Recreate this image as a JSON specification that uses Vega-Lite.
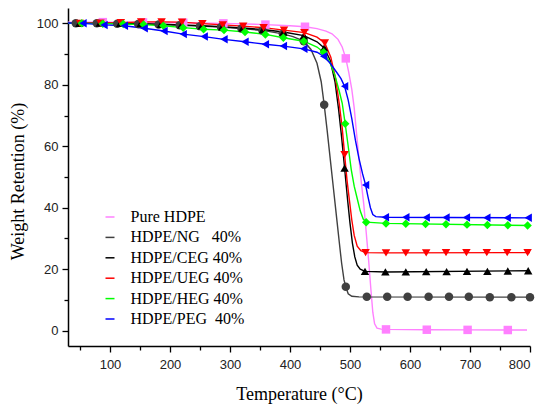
{
  "$schema": "https://vega.github.io/schema/vega-lite/v6.json",
  "autosize": "none",
  "width": 462,
  "height": 338,
  "padding": {"left": 68, "top": 8, "right": 11, "bottom": 58},
  "background": "white",
  "config": {
    "view": {"stroke": null},
    "axis": {
      "grid": false,
      "domainColor": "black",
      "domainWidth": 1.5,
      "tickColor": "black",
      "tickWidth": 1.3,
      "labelFont": "Liberation Sans",
      "labelFontSize": 13,
      "labelColor": "#222222",
      "titleFont": "Liberation Serif",
      "titleFontSize": 18,
      "titleFontWeight": "normal",
      "titleColor": "black"
    }
  },
  "datasets": {
    "curves": [
      {"s": "Pure HDPE", "t": 30, "w": 100.4}, {"s": "Pure HDPE", "t": 88, "w": 100.4}, {"s": "Pure HDPE", "t": 155, "w": 100.3}, {"s": "Pure HDPE", "t": 222, "w": 100.2}, {"s": "Pure HDPE", "t": 289, "w": 100.0}, {"s": "Pure HDPE", "t": 359, "w": 99.6}, {"s": "Pure HDPE", "t": 400, "w": 99.2}, {"s": "Pure HDPE", "t": 425, "w": 98.9}, {"s": "Pure HDPE", "t": 445, "w": 98.3}, {"s": "Pure HDPE", "t": 460, "w": 97.5}, {"s": "Pure HDPE", "t": 470, "w": 96.6}, {"s": "Pure HDPE", "t": 480, "w": 94.8}, {"s": "Pure HDPE", "t": 487, "w": 92.3}, {"s": "Pure HDPE", "t": 493, "w": 88.6}, {"s": "Pure HDPE", "t": 498, "w": 84}, {"s": "Pure HDPE", "t": 503, "w": 78.5}, {"s": "Pure HDPE", "t": 507, "w": 72.5}, {"s": "Pure HDPE", "t": 511, "w": 64}, {"s": "Pure HDPE", "t": 515, "w": 56}, {"s": "Pure HDPE", "t": 519, "w": 48}, {"s": "Pure HDPE", "t": 523, "w": 41}, {"s": "Pure HDPE", "t": 527, "w": 32}, {"s": "Pure HDPE", "t": 531, "w": 23}, {"s": "Pure HDPE", "t": 535, "w": 13}, {"s": "Pure HDPE", "t": 538, "w": 6}, {"s": "Pure HDPE", "t": 541, "w": 2.2}, {"s": "Pure HDPE", "t": 545, "w": 0.8}, {"s": "Pure HDPE", "t": 552, "w": 0.5}, {"s": "Pure HDPE", "t": 560, "w": 0.4}, {"s": "Pure HDPE", "t": 628, "w": 0.3}, {"s": "Pure HDPE", "t": 696, "w": 0.25}, {"s": "Pure HDPE", "t": 763, "w": 0.2}, {"s": "Pure HDPE", "t": 795, "w": 0.2},

      {"s": "HDPE/NG 40%", "t": 30, "w": 100.1}, {"s": "HDPE/NG 40%", "t": 43, "w": 100}, {"s": "HDPE/NG 40%", "t": 78, "w": 100}, {"s": "HDPE/NG 40%", "t": 112, "w": 99.9}, {"s": "HDPE/NG 40%", "t": 147, "w": 99.8}, {"s": "HDPE/NG 40%", "t": 181, "w": 99.6}, {"s": "HDPE/NG 40%", "t": 216, "w": 99.4}, {"s": "HDPE/NG 40%", "t": 250, "w": 99.1}, {"s": "HDPE/NG 40%", "t": 285, "w": 98.8}, {"s": "HDPE/NG 40%", "t": 319, "w": 98.3}, {"s": "HDPE/NG 40%", "t": 354, "w": 97.7}, {"s": "HDPE/NG 40%", "t": 388, "w": 96.6}, {"s": "HDPE/NG 40%", "t": 405, "w": 95.7}, {"s": "HDPE/NG 40%", "t": 423, "w": 94.2}, {"s": "HDPE/NG 40%", "t": 435, "w": 91.5}, {"s": "HDPE/NG 40%", "t": 445, "w": 87}, {"s": "HDPE/NG 40%", "t": 452, "w": 81}, {"s": "HDPE/NG 40%", "t": 457, "w": 73.5}, {"s": "HDPE/NG 40%", "t": 462, "w": 65}, {"s": "HDPE/NG 40%", "t": 467, "w": 56}, {"s": "HDPE/NG 40%", "t": 472, "w": 47}, {"s": "HDPE/NG 40%", "t": 477, "w": 38}, {"s": "HDPE/NG 40%", "t": 482, "w": 29}, {"s": "HDPE/NG 40%", "t": 486, "w": 22}, {"s": "HDPE/NG 40%", "t": 490, "w": 16.5}, {"s": "HDPE/NG 40%", "t": 493, "w": 14.3}, {"s": "HDPE/NG 40%", "t": 497, "w": 12}, {"s": "HDPE/NG 40%", "t": 503, "w": 11.2}, {"s": "HDPE/NG 40%", "t": 515, "w": 11}, {"s": "HDPE/NG 40%", "t": 800, "w": 10.9},

      {"s": "HDPE/CEG 40%", "t": 30, "w": 100}, {"s": "HDPE/CEG 40%", "t": 49, "w": 100}, {"s": "HDPE/CEG 40%", "t": 83, "w": 100.1}, {"s": "HDPE/CEG 40%", "t": 117, "w": 100}, {"s": "HDPE/CEG 40%", "t": 151, "w": 99.9}, {"s": "HDPE/CEG 40%", "t": 185, "w": 99.7}, {"s": "HDPE/CEG 40%", "t": 219, "w": 99.5}, {"s": "HDPE/CEG 40%", "t": 253, "w": 99.2}, {"s": "HDPE/CEG 40%", "t": 287, "w": 98.9}, {"s": "HDPE/CEG 40%", "t": 321, "w": 98.5}, {"s": "HDPE/CEG 40%", "t": 355, "w": 98}, {"s": "HDPE/CEG 40%", "t": 389, "w": 97.2}, {"s": "HDPE/CEG 40%", "t": 423, "w": 96}, {"s": "HDPE/CEG 40%", "t": 445, "w": 94}, {"s": "HDPE/CEG 40%", "t": 457, "w": 92}, {"s": "HDPE/CEG 40%", "t": 467, "w": 88}, {"s": "HDPE/CEG 40%", "t": 475, "w": 81}, {"s": "HDPE/CEG 40%", "t": 481, "w": 72}, {"s": "HDPE/CEG 40%", "t": 486, "w": 63}, {"s": "HDPE/CEG 40%", "t": 491, "w": 52.9}, {"s": "HDPE/CEG 40%", "t": 496, "w": 42.5}, {"s": "HDPE/CEG 40%", "t": 500, "w": 35}, {"s": "HDPE/CEG 40%", "t": 504, "w": 28.5}, {"s": "HDPE/CEG 40%", "t": 508, "w": 24}, {"s": "HDPE/CEG 40%", "t": 512, "w": 21.3}, {"s": "HDPE/CEG 40%", "t": 517, "w": 20}, {"s": "HDPE/CEG 40%", "t": 525, "w": 19.3}, {"s": "HDPE/CEG 40%", "t": 560, "w": 19.1}, {"s": "HDPE/CEG 40%", "t": 800, "w": 19.5},

      {"s": "HDPE/UEG 40%", "t": 30, "w": 100}, {"s": "HDPE/UEG 40%", "t": 50, "w": 100}, {"s": "HDPE/UEG 40%", "t": 84, "w": 100.1}, {"s": "HDPE/UEG 40%", "t": 118, "w": 100.2}, {"s": "HDPE/UEG 40%", "t": 152, "w": 100.5}, {"s": "HDPE/UEG 40%", "t": 186, "w": 100.5}, {"s": "HDPE/UEG 40%", "t": 220, "w": 100.4}, {"s": "HDPE/UEG 40%", "t": 254, "w": 99.9}, {"s": "HDPE/UEG 40%", "t": 288, "w": 99.5}, {"s": "HDPE/UEG 40%", "t": 322, "w": 99.1}, {"s": "HDPE/UEG 40%", "t": 356, "w": 98.6}, {"s": "HDPE/UEG 40%", "t": 390, "w": 97.8}, {"s": "HDPE/UEG 40%", "t": 424, "w": 97}, {"s": "HDPE/UEG 40%", "t": 445, "w": 95.5}, {"s": "HDPE/UEG 40%", "t": 458, "w": 93.6}, {"s": "HDPE/UEG 40%", "t": 468, "w": 89}, {"s": "HDPE/UEG 40%", "t": 476, "w": 82}, {"s": "HDPE/UEG 40%", "t": 482, "w": 74}, {"s": "HDPE/UEG 40%", "t": 487, "w": 66}, {"s": "HDPE/UEG 40%", "t": 491, "w": 57.3}, {"s": "HDPE/UEG 40%", "t": 495, "w": 49}, {"s": "HDPE/UEG 40%", "t": 499, "w": 42.5}, {"s": "HDPE/UEG 40%", "t": 503, "w": 36}, {"s": "HDPE/UEG 40%", "t": 507, "w": 31}, {"s": "HDPE/UEG 40%", "t": 512, "w": 27.5}, {"s": "HDPE/UEG 40%", "t": 518, "w": 26}, {"s": "HDPE/UEG 40%", "t": 526, "w": 25.4}, {"s": "HDPE/UEG 40%", "t": 560, "w": 25.3}, {"s": "HDPE/UEG 40%", "t": 800, "w": 25.4},

      {"s": "HDPE/HEG 40%", "t": 30, "w": 100}, {"s": "HDPE/HEG 40%", "t": 53, "w": 100}, {"s": "HDPE/HEG 40%", "t": 88, "w": 99.9}, {"s": "HDPE/HEG 40%", "t": 122, "w": 99.8}, {"s": "HDPE/HEG 40%", "t": 156, "w": 99.6}, {"s": "HDPE/HEG 40%", "t": 189, "w": 99.2}, {"s": "HDPE/HEG 40%", "t": 222, "w": 98.6}, {"s": "HDPE/HEG 40%", "t": 256, "w": 98.1}, {"s": "HDPE/HEG 40%", "t": 290, "w": 97.8}, {"s": "HDPE/HEG 40%", "t": 325, "w": 97.2}, {"s": "HDPE/HEG 40%", "t": 359, "w": 96.4}, {"s": "HDPE/HEG 40%", "t": 389, "w": 95.3}, {"s": "HDPE/HEG 40%", "t": 423, "w": 94.2}, {"s": "HDPE/HEG 40%", "t": 445, "w": 92.3}, {"s": "HDPE/HEG 40%", "t": 456, "w": 90.6}, {"s": "HDPE/HEG 40%", "t": 466, "w": 87.5}, {"s": "HDPE/HEG 40%", "t": 475, "w": 83}, {"s": "HDPE/HEG 40%", "t": 482, "w": 78}, {"s": "HDPE/HEG 40%", "t": 487, "w": 74}, {"s": "HDPE/HEG 40%", "t": 492, "w": 67.3}, {"s": "HDPE/HEG 40%", "t": 497, "w": 60}, {"s": "HDPE/HEG 40%", "t": 502, "w": 52.5}, {"s": "HDPE/HEG 40%", "t": 507, "w": 47}, {"s": "HDPE/HEG 40%", "t": 512, "w": 43}, {"s": "HDPE/HEG 40%", "t": 517, "w": 39}, {"s": "HDPE/HEG 40%", "t": 522, "w": 36.3}, {"s": "HDPE/HEG 40%", "t": 527, "w": 35.3}, {"s": "HDPE/HEG 40%", "t": 560, "w": 34.9}, {"s": "HDPE/HEG 40%", "t": 800, "w": 34.2},

      {"s": "HDPE/PEG 40%", "t": 30, "w": 100.1}, {"s": "HDPE/PEG 40%", "t": 55, "w": 100}, {"s": "HDPE/PEG 40%", "t": 90, "w": 99.5}, {"s": "HDPE/PEG 40%", "t": 124, "w": 99.2}, {"s": "HDPE/PEG 40%", "t": 157, "w": 98.4}, {"s": "HDPE/PEG 40%", "t": 190, "w": 97.5}, {"s": "HDPE/PEG 40%", "t": 222, "w": 96.5}, {"s": "HDPE/PEG 40%", "t": 257, "w": 95.7}, {"s": "HDPE/PEG 40%", "t": 290, "w": 94.8}, {"s": "HDPE/PEG 40%", "t": 325, "w": 94.0}, {"s": "HDPE/PEG 40%", "t": 359, "w": 93.2}, {"s": "HDPE/PEG 40%", "t": 389, "w": 92.6}, {"s": "HDPE/PEG 40%", "t": 423, "w": 91.7}, {"s": "HDPE/PEG 40%", "t": 445, "w": 90.6}, {"s": "HDPE/PEG 40%", "t": 456, "w": 89.3}, {"s": "HDPE/PEG 40%", "t": 467, "w": 87}, {"s": "HDPE/PEG 40%", "t": 478, "w": 84}, {"s": "HDPE/PEG 40%", "t": 485, "w": 82}, {"s": "HDPE/PEG 40%", "t": 491, "w": 79.5}, {"s": "HDPE/PEG 40%", "t": 497, "w": 75}, {"s": "HDPE/PEG 40%", "t": 503, "w": 69}, {"s": "HDPE/PEG 40%", "t": 509, "w": 62}, {"s": "HDPE/PEG 40%", "t": 515, "w": 56}, {"s": "HDPE/PEG 40%", "t": 521, "w": 51}, {"s": "HDPE/PEG 40%", "t": 526, "w": 47.4}, {"s": "HDPE/PEG 40%", "t": 530, "w": 43.5}, {"s": "HDPE/PEG 40%", "t": 534, "w": 40}, {"s": "HDPE/PEG 40%", "t": 538, "w": 37.8}, {"s": "HDPE/PEG 40%", "t": 543, "w": 37.1}, {"s": "HDPE/PEG 40%", "t": 559, "w": 36.9}, {"s": "HDPE/PEG 40%", "t": 800, "w": 36.7}
    ],
    "markers": [
      {"s": "Pure HDPE", "t": 88, "w": 100.4}, {"s": "Pure HDPE", "t": 155, "w": 100.3}, {"s": "Pure HDPE", "t": 222, "w": 100.2}, {"s": "Pure HDPE", "t": 289, "w": 100.0}, {"s": "Pure HDPE", "t": 359, "w": 99.6}, {"s": "Pure HDPE", "t": 425, "w": 98.9}, {"s": "Pure HDPE", "t": 493, "w": 88.6}, {"s": "Pure HDPE", "t": 560, "w": 0.4}, {"s": "Pure HDPE", "t": 628, "w": 0.3}, {"s": "Pure HDPE", "t": 696, "w": 0.25}, {"s": "Pure HDPE", "t": 763, "w": 0.2},

      {"s": "HDPE/NG 40%", "t": 43, "w": 100}, {"s": "HDPE/NG 40%", "t": 78, "w": 100}, {"s": "HDPE/NG 40%", "t": 112, "w": 99.9}, {"s": "HDPE/NG 40%", "t": 147, "w": 99.8}, {"s": "HDPE/NG 40%", "t": 181, "w": 99.6}, {"s": "HDPE/NG 40%", "t": 216, "w": 99.4}, {"s": "HDPE/NG 40%", "t": 250, "w": 99.1}, {"s": "HDPE/NG 40%", "t": 285, "w": 98.8}, {"s": "HDPE/NG 40%", "t": 319, "w": 98.3}, {"s": "HDPE/NG 40%", "t": 354, "w": 97.7}, {"s": "HDPE/NG 40%", "t": 388, "w": 96.6}, {"s": "HDPE/NG 40%", "t": 423, "w": 94.2}, {"s": "HDPE/NG 40%", "t": 457, "w": 73.5}, {"s": "HDPE/NG 40%", "t": 493, "w": 14.3}, {"s": "HDPE/NG 40%", "t": 528, "w": 11}, {"s": "HDPE/NG 40%", "t": 562, "w": 11}, {"s": "HDPE/NG 40%", "t": 596, "w": 11}, {"s": "HDPE/NG 40%", "t": 631, "w": 11}, {"s": "HDPE/NG 40%", "t": 665, "w": 11}, {"s": "HDPE/NG 40%", "t": 698, "w": 11}, {"s": "HDPE/NG 40%", "t": 733, "w": 10.9}, {"s": "HDPE/NG 40%", "t": 769, "w": 10.9}, {"s": "HDPE/NG 40%", "t": 800, "w": 10.9},

      {"s": "HDPE/CEG 40%", "t": 49, "w": 100}, {"s": "HDPE/CEG 40%", "t": 83, "w": 100.1}, {"s": "HDPE/CEG 40%", "t": 117, "w": 100}, {"s": "HDPE/CEG 40%", "t": 151, "w": 99.9}, {"s": "HDPE/CEG 40%", "t": 185, "w": 99.7}, {"s": "HDPE/CEG 40%", "t": 219, "w": 99.5}, {"s": "HDPE/CEG 40%", "t": 253, "w": 99.2}, {"s": "HDPE/CEG 40%", "t": 287, "w": 98.9}, {"s": "HDPE/CEG 40%", "t": 321, "w": 98.5}, {"s": "HDPE/CEG 40%", "t": 355, "w": 98}, {"s": "HDPE/CEG 40%", "t": 389, "w": 97.2}, {"s": "HDPE/CEG 40%", "t": 423, "w": 96}, {"s": "HDPE/CEG 40%", "t": 457, "w": 92}, {"s": "HDPE/CEG 40%", "t": 491, "w": 52.9}, {"s": "HDPE/CEG 40%", "t": 525, "w": 19.3}, {"s": "HDPE/CEG 40%", "t": 559, "w": 19.1}, {"s": "HDPE/CEG 40%", "t": 593, "w": 19.1}, {"s": "HDPE/CEG 40%", "t": 627, "w": 19.2}, {"s": "HDPE/CEG 40%", "t": 661, "w": 19.2}, {"s": "HDPE/CEG 40%", "t": 695, "w": 19.3}, {"s": "HDPE/CEG 40%", "t": 729, "w": 19.3}, {"s": "HDPE/CEG 40%", "t": 763, "w": 19.4}, {"s": "HDPE/CEG 40%", "t": 797, "w": 19.5},

      {"s": "HDPE/UEG 40%", "t": 50, "w": 100}, {"s": "HDPE/UEG 40%", "t": 84, "w": 100.1}, {"s": "HDPE/UEG 40%", "t": 118, "w": 100.2}, {"s": "HDPE/UEG 40%", "t": 152, "w": 100.5}, {"s": "HDPE/UEG 40%", "t": 186, "w": 100.5}, {"s": "HDPE/UEG 40%", "t": 220, "w": 100.4}, {"s": "HDPE/UEG 40%", "t": 254, "w": 99.9}, {"s": "HDPE/UEG 40%", "t": 288, "w": 99.5}, {"s": "HDPE/UEG 40%", "t": 322, "w": 99.1}, {"s": "HDPE/UEG 40%", "t": 356, "w": 98.6}, {"s": "HDPE/UEG 40%", "t": 390, "w": 97.8}, {"s": "HDPE/UEG 40%", "t": 424, "w": 97}, {"s": "HDPE/UEG 40%", "t": 458, "w": 93.6}, {"s": "HDPE/UEG 40%", "t": 491, "w": 57.3}, {"s": "HDPE/UEG 40%", "t": 526, "w": 25.4}, {"s": "HDPE/UEG 40%", "t": 560, "w": 25.3}, {"s": "HDPE/UEG 40%", "t": 593, "w": 25.3}, {"s": "HDPE/UEG 40%", "t": 627, "w": 25.3}, {"s": "HDPE/UEG 40%", "t": 660, "w": 25.4}, {"s": "HDPE/UEG 40%", "t": 694, "w": 25.4}, {"s": "HDPE/UEG 40%", "t": 728, "w": 25.4}, {"s": "HDPE/UEG 40%", "t": 762, "w": 25.4}, {"s": "HDPE/UEG 40%", "t": 796, "w": 25.4},

      {"s": "HDPE/HEG 40%", "t": 53, "w": 100}, {"s": "HDPE/HEG 40%", "t": 88, "w": 99.9}, {"s": "HDPE/HEG 40%", "t": 122, "w": 99.8}, {"s": "HDPE/HEG 40%", "t": 156, "w": 99.6}, {"s": "HDPE/HEG 40%", "t": 189, "w": 99.2}, {"s": "HDPE/HEG 40%", "t": 222, "w": 98.6}, {"s": "HDPE/HEG 40%", "t": 256, "w": 98.1}, {"s": "HDPE/HEG 40%", "t": 290, "w": 97.8}, {"s": "HDPE/HEG 40%", "t": 325, "w": 97.2}, {"s": "HDPE/HEG 40%", "t": 359, "w": 96.4}, {"s": "HDPE/HEG 40%", "t": 389, "w": 95.3}, {"s": "HDPE/HEG 40%", "t": 423, "w": 94.2}, {"s": "HDPE/HEG 40%", "t": 456, "w": 90.6}, {"s": "HDPE/HEG 40%", "t": 492, "w": 67.3}, {"s": "HDPE/HEG 40%", "t": 527, "w": 35.3}, {"s": "HDPE/HEG 40%", "t": 560, "w": 34.9}, {"s": "HDPE/HEG 40%", "t": 593, "w": 34.8}, {"s": "HDPE/HEG 40%", "t": 626, "w": 34.7}, {"s": "HDPE/HEG 40%", "t": 660, "w": 34.6}, {"s": "HDPE/HEG 40%", "t": 695, "w": 34.5}, {"s": "HDPE/HEG 40%", "t": 729, "w": 34.4}, {"s": "HDPE/HEG 40%", "t": 763, "w": 34.3}, {"s": "HDPE/HEG 40%", "t": 796, "w": 34.2},

      {"s": "HDPE/PEG 40%", "t": 55, "w": 100}, {"s": "HDPE/PEG 40%", "t": 90, "w": 99.5}, {"s": "HDPE/PEG 40%", "t": 124, "w": 99.2}, {"s": "HDPE/PEG 40%", "t": 157, "w": 98.4}, {"s": "HDPE/PEG 40%", "t": 190, "w": 97.5}, {"s": "HDPE/PEG 40%", "t": 222, "w": 96.5}, {"s": "HDPE/PEG 40%", "t": 257, "w": 95.7}, {"s": "HDPE/PEG 40%", "t": 290, "w": 94.8}, {"s": "HDPE/PEG 40%", "t": 325, "w": 94.0}, {"s": "HDPE/PEG 40%", "t": 359, "w": 93.2}, {"s": "HDPE/PEG 40%", "t": 389, "w": 92.6}, {"s": "HDPE/PEG 40%", "t": 423, "w": 91.7}, {"s": "HDPE/PEG 40%", "t": 456, "w": 89.3}, {"s": "HDPE/PEG 40%", "t": 491, "w": 79.5}, {"s": "HDPE/PEG 40%", "t": 526, "w": 47.4}, {"s": "HDPE/PEG 40%", "t": 559, "w": 36.9}, {"s": "HDPE/PEG 40%", "t": 593, "w": 36.9}, {"s": "HDPE/PEG 40%", "t": 627, "w": 36.8}, {"s": "HDPE/PEG 40%", "t": 660, "w": 36.8}, {"s": "HDPE/PEG 40%", "t": 694, "w": 36.8}, {"s": "HDPE/PEG 40%", "t": 728, "w": 36.7}, {"s": "HDPE/PEG 40%", "t": 762, "w": 36.7}, {"s": "HDPE/PEG 40%", "t": 797, "w": 36.7}
    ]
  },
  "encoding": {
    "x": {
      "field": "t", "type": "quantitative",
      "scale": {"domain": [30, 800], "nice": false, "zero": false},
      "axis": {
        "title": "Temperature (°C)",
        "values": [50, 100, 150, 200, 250, 300, 350, 400, 450, 500, 550, 600, 650, 700, 750, 800],
        "labelExpr": "datum.value % 100 === 0 ? datum.label : ''",
        "tickSize": {"condition": {"test": "datum.value % 100 === 0", "value": 6}, "value": 4},
        "labelPadding": 6,
        "titleY": 53,
        "titleBaseline": "alphabetic"
      }
    },
    "y": {
      "field": "w", "type": "quantitative",
      "scale": {"domain": [-5, 105], "nice": false, "zero": false},
      "axis": {
        "title": "Weight Retention (%)",
        "values": [0, 10, 20, 30, 40, 50, 60, 70, 80, 90, 100],
        "labelExpr": "datum.value % 20 === 0 ? datum.label : ''",
        "tickSize": {"condition": {"test": "datum.value % 20 === 0", "value": 6}, "value": 4},
        "labelPadding": 4,
        "titleX": -50,
        "titleY": 173,
        "titleAngle": 270,
        "titleBaseline": "middle",
        "titleAlign": "center"
      }
    }
  },
  "layer": [
    {
      "data": {"name": "curves"},
      "mark": {"type": "line", "strokeWidth": 1.4, "opacity": 1},
      "encoding": {
        "color": {
          "field": "s", "type": "nominal",
          "scale": {
            "domain": ["Pure HDPE", "HDPE/NG 40%", "HDPE/CEG 40%", "HDPE/UEG 40%", "HDPE/HEG 40%", "HDPE/PEG 40%"],
            "range": ["#FF80FF", "#404040", "#000000", "#FF0000", "#00FF00", "#0000FF"]
          },
          "legend": {
            "title": null,
            "orient": "none",
            "legendX": 34,
            "legendY": 201,
            "padding": 0,
            "symbolSize": 81,
            "labelFont": "Liberation Serif",
            "labelFontSize": 16,
            "labelColor": "black",
            "labelOffset": 12.5,
            "rowPadding": 4.4,
            "labelLimit": 300,
            "labelExpr": "replace(replace(datum.label, 'NG 40%', 'NG\u00a0\u00a0\u00a040%'), 'PEG 40%', 'PEG\u00a0\u00a040%')",
            "encode": {
              "symbols": {
                "update": {
                  "shape": {"signal": "datum.value === 'Pure HDPE' ? 'M-4.9,-0.14H4.45V0.14H-4.9Z M-0.9,-0.9H0.9V0.9H-0.9Z' : datum.value === 'HDPE/NG 40%' ? 'M-4.9,-0.14H4.45V0.14H-4.9Z M-0.95,0A0.95,0.95,0,1,1,0.95,0A0.95,0.95,0,1,1,-0.95,0Z' : datum.value === 'HDPE/CEG 40%' ? 'M-4.9,-0.14H4.45V0.14H-4.9Z M0,-1L1.1,0.9L-1.1,0.9Z' : datum.value === 'HDPE/UEG 40%' ? 'M-4.9,-0.14H4.45V0.14H-4.9Z M0,1L-1.1,-0.9L1.1,-0.9Z' : datum.value === 'HDPE/HEG 40%' ? 'M-4.9,-0.14H4.45V0.14H-4.9Z M0,-1.15L1.15,0L0,1.15L-1.15,0Z' : 'M-4.9,-0.14H4.45V0.14H-4.9Z M-1.1,0L0.9,-1.1L0.9,1.1Z'"},
                  "fill": {"signal": "scale('color', datum.value)"},
                  "size": {"value": 81},
                  "strokeWidth": {"value": 0},
                  "opacity": {"value": 1}
                }
              }
            }
          }
        }
      }
    },
    {
      "data": {"name": "markers"},
      "transform": [{"filter": "datum.s === 'Pure HDPE'"}],
      "mark": {"type": "point", "shape": "square", "filled": true, "opacity": 1, "size": 72, "color": "#FF80FF"},
      "encoding": {}
    },
    {
      "data": {"name": "markers"},
      "transform": [{"filter": "datum.s === 'HDPE/NG 40%'"}],
      "mark": {"type": "point", "shape": "circle", "filled": true, "opacity": 1, "size": 72, "color": "#404040"},
      "encoding": {}
    },
    {
      "data": {"name": "markers"},
      "transform": [{"filter": "datum.s === 'HDPE/CEG 40%'"}],
      "mark": {"type": "point", "shape": "triangle-up", "filled": true, "opacity": 1, "size": 72, "color": "#000000"},
      "encoding": {}
    },
    {
      "data": {"name": "markers"},
      "transform": [{"filter": "datum.s === 'HDPE/UEG 40%'"}],
      "mark": {"type": "point", "shape": "triangle-down", "filled": true, "opacity": 1, "size": 72, "color": "#FF0000"},
      "encoding": {}
    },
    {
      "data": {"name": "markers"},
      "transform": [{"filter": "datum.s === 'HDPE/HEG 40%'"}],
      "mark": {"type": "point", "shape": "diamond", "filled": true, "opacity": 1, "size": 72, "color": "#00FF00"},
      "encoding": {}
    },
    {
      "data": {"name": "markers"},
      "transform": [{"filter": "datum.s === 'HDPE/PEG 40%'"}],
      "mark": {"type": "point", "shape": "triangle-left", "filled": true, "opacity": 1, "size": 72, "color": "#0000FF"},
      "encoding": {}
    }
  ]
}
